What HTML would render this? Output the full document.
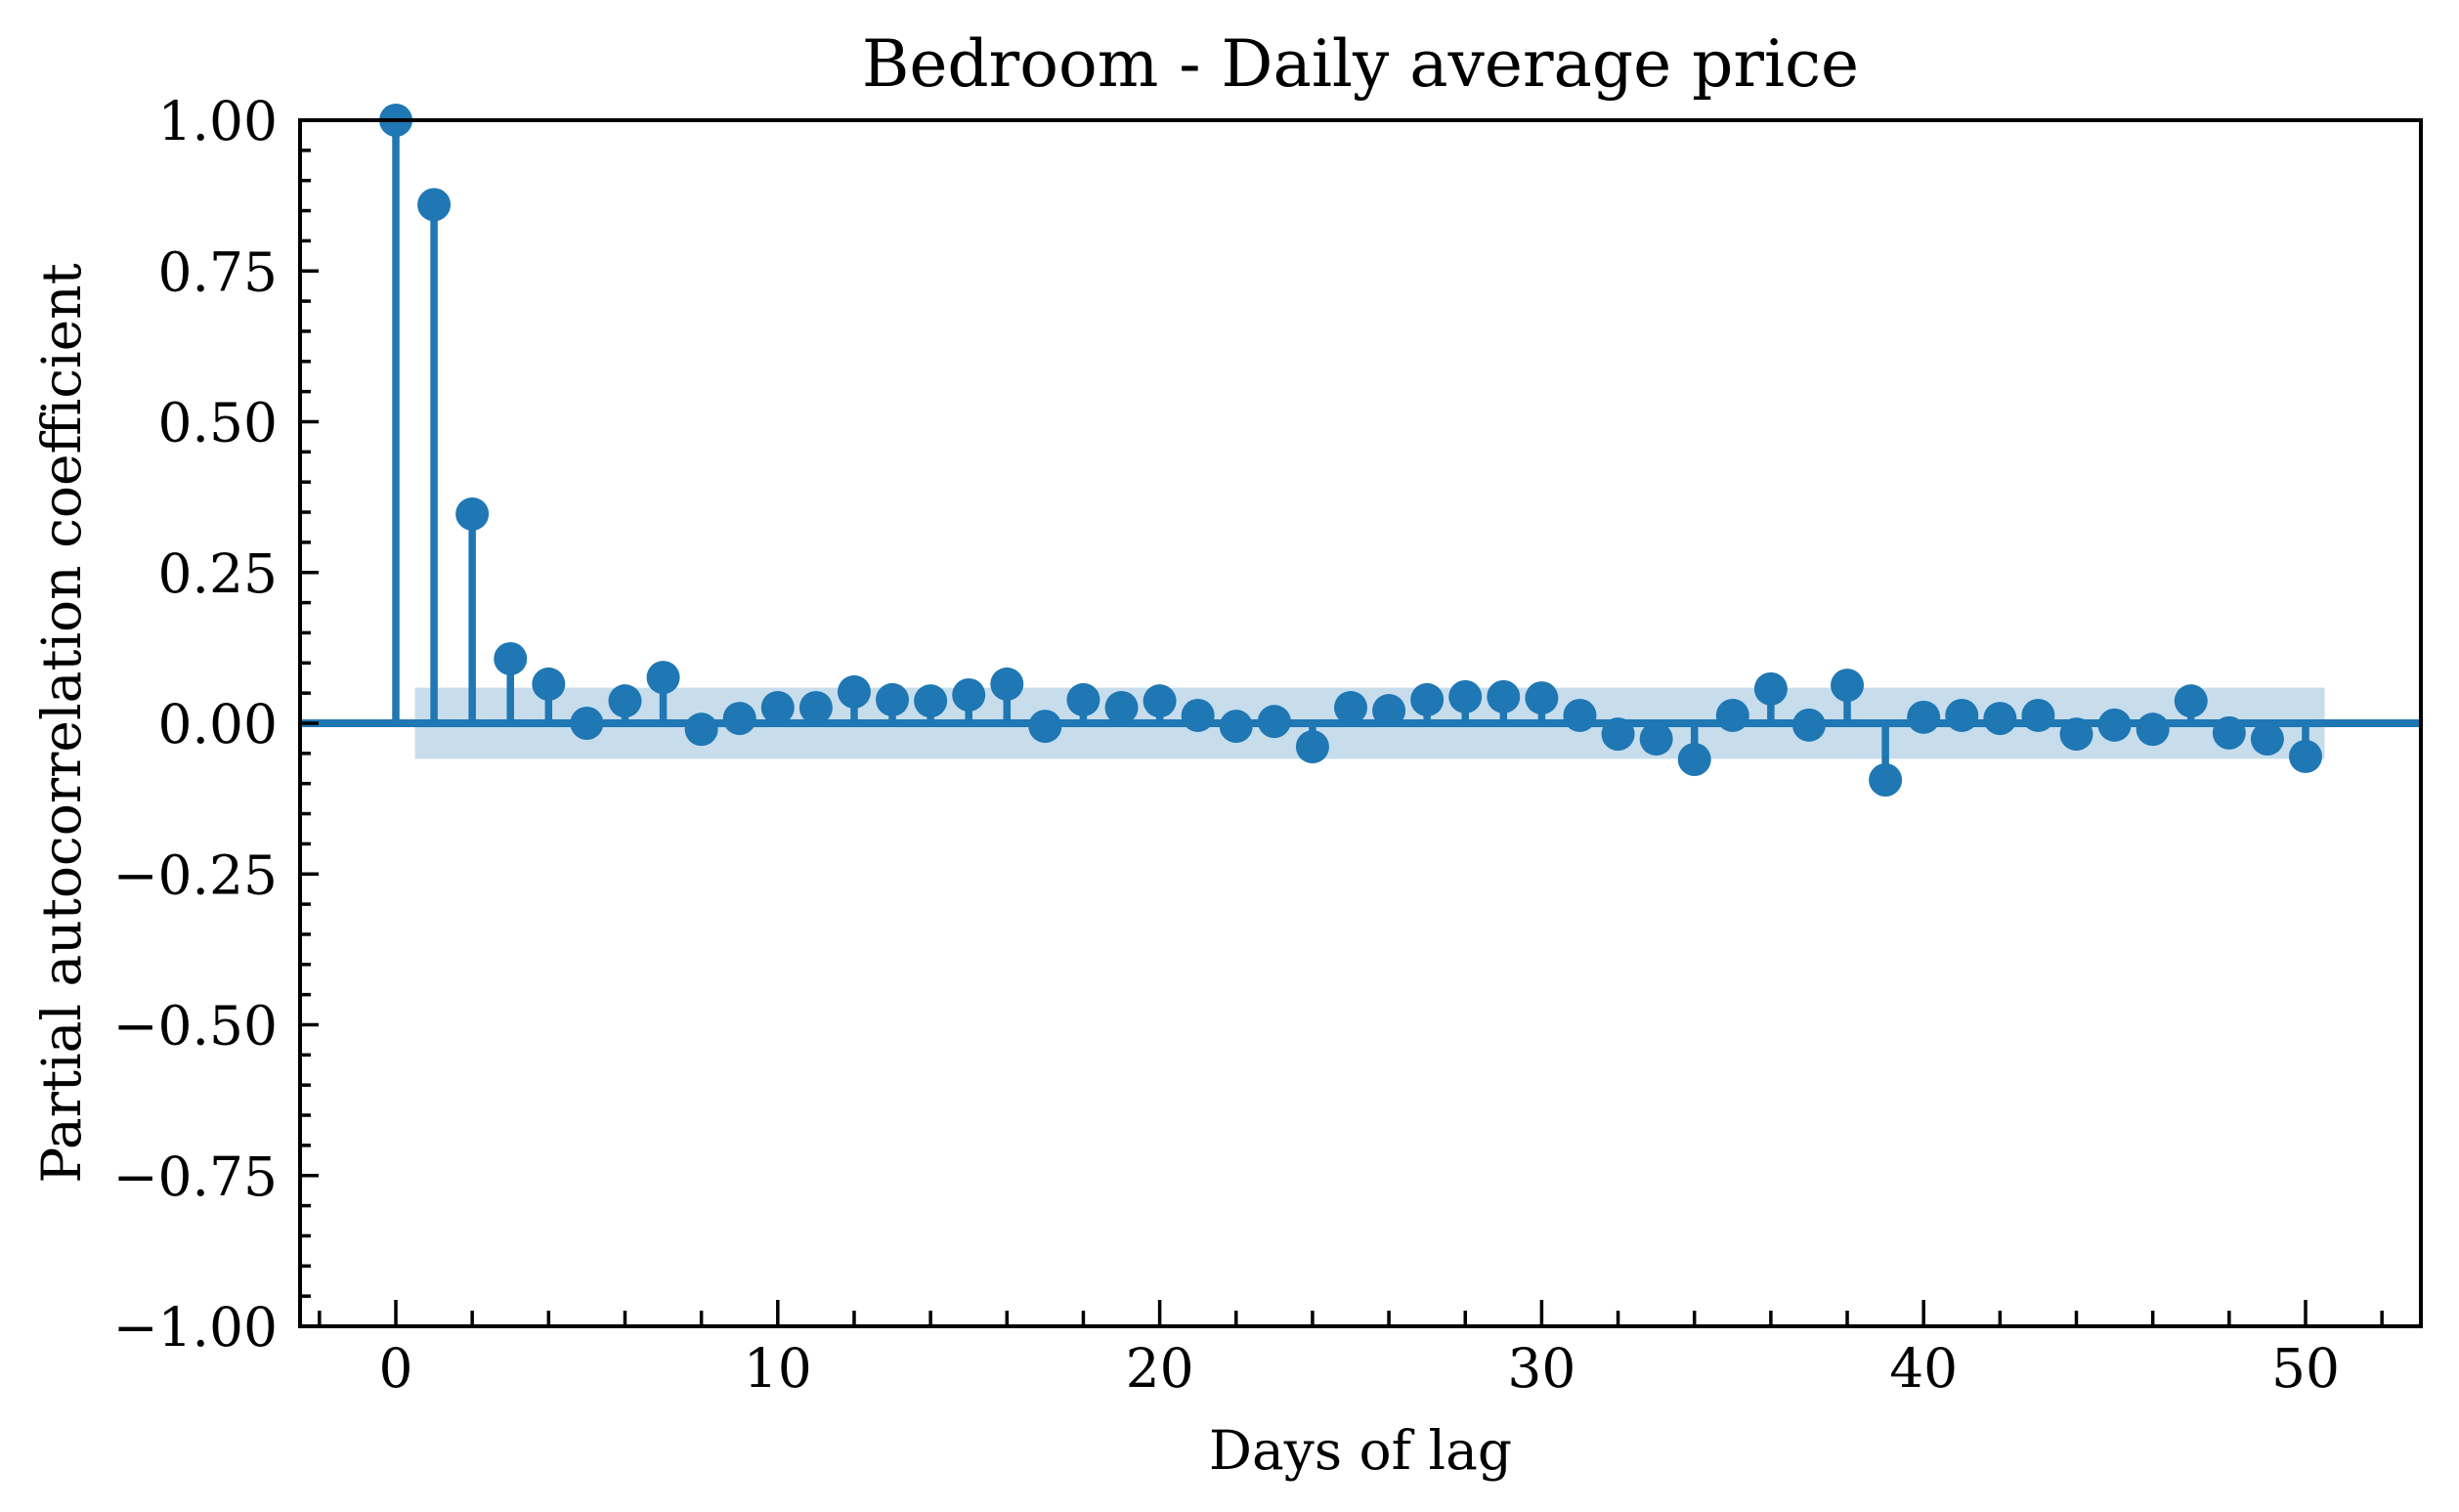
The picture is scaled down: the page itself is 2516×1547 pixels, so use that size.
<!DOCTYPE html>
<html><head><meta charset="utf-8"><style>
html,body{margin:0;padding:0;background:#fff;}
svg{display:block;font-family:"DejaVu Serif","Liberation Serif",serif;}
</style></head><body>
<svg id="chart" width="2516" height="1547" viewBox="0 0 2516 1547" xmlns="http://www.w3.org/2000/svg">
<text x="1392" y="88" font-size="66" text-anchor="middle">Bedroom - Daily average price</text>
<text x="1392" y="1503" font-size="55" text-anchor="middle">Days of lag</text>
<text transform="translate(82,740) rotate(-90)" font-size="55" text-anchor="middle">Partial autocorrelation coefficient</text>
<g id="plot"></g>
</svg>
<script>
const lags = [];
for (let i = 0; i <= 50; i++) lags.push(i);
const pacf = [1.0,0.86,0.347,0.107,0.065,0.0,0.037,0.076,-0.01,0.008,0.026,0.026,0.052,0.039,0.037,0.047,0.065,-0.005,0.039,0.026,0.037,0.013,-0.005,0.003,-0.039,0.026,0.021,0.039,0.044,0.044,0.042,0.013,-0.018,-0.026,-0.06,0.013,0.057,-0.003,0.063,-0.094,0.01,0.013,0.008,0.013,-0.018,-0.003,-0.01,0.037,-0.016,-0.026,-0.055];
const confBand = [0.059];
const xTicks = [0,10,20,30,40,50];
const yTicks = [-1,-0.75,-0.5,-0.25,0,0.25,0.5,0.75,1];
const yTickLabels = ["\u22121.00","\u22120.75","\u22120.50","\u22120.25","0.00","0.25","0.50","0.75","1.00"];

const L=307,R=2477,T=123,B=1357;
const x0=405, pxPerLag=39.08;
const xs = v => x0 + v*pxPerLag;
const ys = v => 740 - v*617;
const NS="http://www.w3.org/2000/svg";
const g=document.getElementById('plot');
function mk(tag,attrs){const e=document.createElementNS(NS,tag);for(const k in attrs)e.setAttribute(k,attrs[k]);g.appendChild(e);return e;}
const C="#1f77b4";

let band=mk('rect',{x:xs(0.5),y:ys(confBand[0]),width:xs(50.5)-xs(0.5),height:ys(-confBand[0])-ys(confBand[0]),fill:C,'fill-opacity':0.25});



for(let i=0;i<lags.length;i++){
  let s=mk('line',{x1:xs(lags[i]),x2:xs(lags[i]),y1:ys(0),y2:ys(pacf[i]),stroke:C,'stroke-width':7.5});
  
  
}
let zl=mk('line',{x1:L,x2:R,y1:ys(0),y2:ys(0),stroke:C,'stroke-width':8});


for(let i=0;i<lags.length;i++){
  let c=mk('circle',{cx:xs(lags[i]),cy:ys(pacf[i]),r:17,fill:C});
  
  
}
let fr=mk('rect',{x:L,y:T,width:R-L,height:B-T,fill:'none',stroke:'#000','stroke-width':4});


for(let v=-2;v<=52;v+=2){
  const major = v%10===0;
  let t=mk('line',{x1:xs(v),x2:xs(v),y1:B,y2:B-(major?27:16),stroke:'#000','stroke-width':3.5});
  
  
}
for(const v of xTicks){
  let t=mk('text',{x:xs(v),y:1419,'font-size':55,'text-anchor':'middle'});
  t.textContent=String(v);
  
  
}
for(let k=-20;k<=20;k++){
  const v=k*0.05; const major=k%5===0;
  let t=mk('line',{x1:L,x2:L+(major?19:11),y1:ys(v),y2:ys(v),stroke:'#000','stroke-width':3.5});
  
  
}
for(let i=0;i<yTicks.length;i++){
  let t=mk('text',{x:284,y:ys(yTicks[i])+20,'font-size':55,'text-anchor':'end'});
  t.textContent=yTickLabels[i];
  
  
}
</script>
</body></html>
